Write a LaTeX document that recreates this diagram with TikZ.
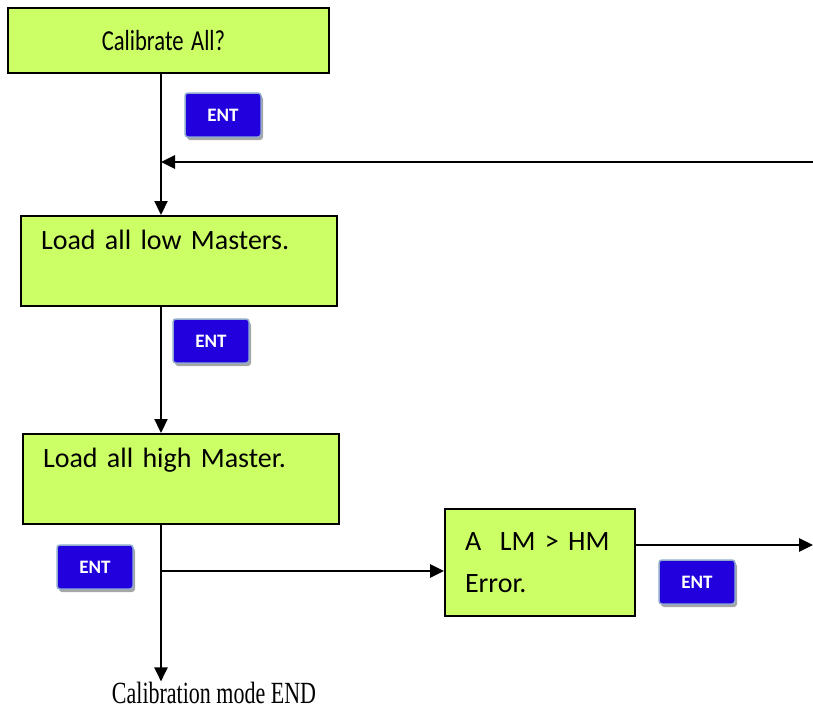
\documentclass[tikz,border=0pt]{standalone}
\usepackage{fontspec}
\setmainfont{Carlito}[WordSpace=0.75]
\newfontfamily\serifnote{Liberation Serif}
\usepackage{graphicx}
\usetikzlibrary{arrows.meta, calc, positioning, shadows}
\definecolor{panelgreen}{RGB}{204,255,102}
\definecolor{keyblue}{RGB}{34,0,221}
\definecolor{keyrim}{RGB}{143,170,204}

\begin{document}
\begin{tikzpicture}[x=1pt, y=-1pt]

  \tikzstyle{panel} = [rectangle, draw=black, line width=2pt, fill=panelgreen, font=\fontsize{28}{42}\selectfont, inner xsep=20pt, align=left, minimum height=90pt];
  \tikzstyle{key} = [rectangle, rounded corners=3pt, draw=keyrim, line width=1.5pt, fill=keyblue, text=white, font=\fontsize{19}{19}\selectfont\bfseries, minimum width=76pt, minimum height=44pt, drop shadow={shadow xshift=2pt, shadow yshift=-3pt, fill=gray!70, opacity=1}];
  \tikzstyle{flow} = [-{Triangle[length=14pt, width=13pt]}, line width=2.2pt];

  \useasboundingbox (0,0) rectangle (813,710);
  \coordinate (spine) at (161,0);

  \node [panel, text width=281pt, align=center, minimum height=65pt, font=\fontsize{29}{30}\selectfont] (calbox) at (168.5,40.5) {\hspace*{-10pt}\scalebox{0.78}[1]{Calibrate All?}};
  \node [panel, text width=276pt, below=141pt of calbox, xshift=10.5pt] (lowbox)  {Load all low Masters.\\ \mbox{}};
  \node [panel, text width=276pt, below=126pt of lowbox, xshift=2pt]    (highbox) {Load all high Master.\\ \mbox{}};
  \node [panel, text width=150pt, minimum height=107pt, right=104pt of highbox, yshift=-83.5pt] (errbox) {A\ \ LM > HM\\Error.};

  \node [font=\serifnote\fontsize{22}{22}\selectfont, inner sep=0pt, anchor=base] (endnote) at (214,703) {\scalebox{1}[1.4]{Calibration mode END}};

  \node [key] (ent1) at (223,115) {ENT};
  \node [key] (ent2) at (211,341) {ENT};
  \node [key] (ent3) at (95,567)  {ENT};
  \node [key] (ent4) at (697,582) {ENT};

  \coordinate (loopin) at (813,162);
  \coordinate (split)  at (161,571);
  \coordinate (exit)   at (813,545);

  \draw[flow] (calbox.south -| spine) -- (lowbox.north -| spine);
  \draw[flow, line width=2.8pt] (loopin) -- (loopin -| spine);
  \draw[flow] (lowbox.south -| spine) -- (highbox.north -| spine);
  \draw[flow] (highbox.south -| spine) -- (endnote.north -| spine);
  \draw[flow, line width=2.8pt] (split) -- (split -| errbox.west);
  \draw[flow, line width=2.8pt] (errbox.east |- exit) -- (exit);

\end{tikzpicture}
\end{document}
